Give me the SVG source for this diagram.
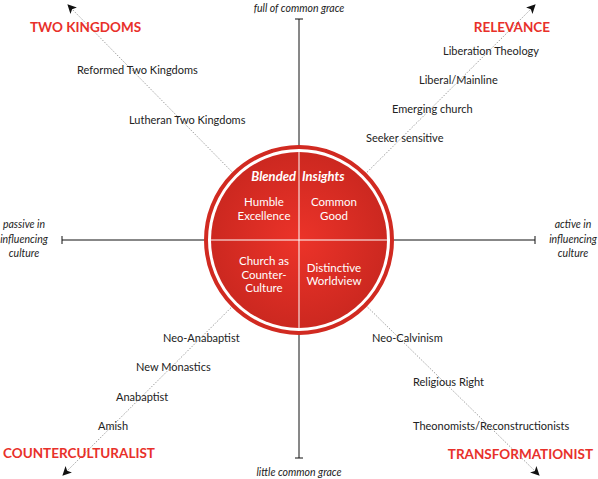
<svg xmlns="http://www.w3.org/2000/svg" width="598" height="479" viewBox="0 0 598 479">
<style>
.lbl{font-family:Lato,"Liberation Sans",sans-serif;font-size:11px;fill:#222}
.ax{font-family:Lato,"Liberation Sans",sans-serif;font-size:10.5px;font-style:italic;fill:#222;text-anchor:middle}
.hd{font-family:Lato,"Liberation Sans",sans-serif;font-size:13.5px;font-weight:bold;fill:#e8302a}
.in{font-family:Lato,"Liberation Sans",sans-serif;font-size:11.5px;fill:#fff;text-anchor:middle}
.ttl{font-family:Lato,"Liberation Sans",sans-serif;font-size:13px;font-weight:bold;font-style:italic;fill:#fff}
.axis{stroke:#111;stroke-width:1;fill:none}
.diag{stroke:#888;stroke-width:0.8;stroke-dasharray:1.5 1.5;fill:none}
</style>
<defs>
<marker id="arr" viewBox="0 0 10 10" refX="9" refY="5" markerWidth="9" markerHeight="9" markerUnits="userSpaceOnUse" orient="auto">
<path d="M0,0 L10,5 L0,10 L2.5,5 z" fill="#111"/>
</marker>
<radialGradient id="rg" cx="0.5" cy="0.5" r="0.5">
<stop offset="0" stop-color="#ec3329"/>
<stop offset="1" stop-color="#cc2820"/>
</radialGradient>
</defs>
<rect width="598" height="479" fill="#fff"/>
<g id="connectors">
<line class="axis" x1="299" y1="19" x2="299" y2="458"/>
<line class="axis" x1="295" y1="19" x2="303" y2="19"/>
<line class="axis" x1="295" y1="458" x2="303" y2="458"/>
<line class="axis" x1="62" y1="240" x2="535" y2="240"/>
<line class="axis" x1="62" y1="236" x2="62" y2="244"/>
<line class="axis" x1="535" y1="236" x2="535" y2="244"/>
<line class="diag" x1="299" y1="240" x2="68" y2="5" marker-end="url(#arr)"/>
<line class="diag" x1="299" y1="240" x2="535" y2="5" marker-end="url(#arr)"/>
<line class="diag" x1="299" y1="240" x2="63" y2="475" marker-end="url(#arr)"/>
<line class="diag" x1="299" y1="240" x2="539" y2="475" marker-end="url(#arr)"/>
</g>
<g id="axis-labels">
<text class="ax" x="299" y="12">full of common grace</text>
<text class="ax" x="299" y="476">little common grace</text>
<text class="ax" x="24" y="228">passive in</text>
<text class="ax" x="24" y="243">influencing</text>
<text class="ax" x="24" y="257">culture</text>
<text class="ax" x="573" y="228">active in</text>
<text class="ax" x="573" y="243">influencing</text>
<text class="ax" x="573" y="257">culture</text>
</g>
<g id="headers">
<text class="hd" x="30" y="32">TWO KINGDOMS</text>
<text class="hd" x="550" y="32" text-anchor="end">RELEVANCE</text>
<text class="hd" x="3" y="458">COUNTERCULTURALIST</text>
<text class="hd" x="593" y="459" text-anchor="end">TRANSFORMATIONIST</text>
</g>
<g id="labels">
<text class="lbl" x="77" y="74">Reformed Two Kingdoms</text>
<text class="lbl" x="129" y="124">Lutheran Two Kingdoms</text>
<text class="lbl" x="443" y="55">Liberation Theology</text>
<text class="lbl" x="419" y="84">Liberal/Mainline</text>
<text class="lbl" x="392" y="113">Emerging church</text>
<text class="lbl" x="366" y="142">Seeker sensitive</text>
<text class="lbl" x="163" y="342">Neo-Anabaptist</text>
<text class="lbl" x="136" y="371">New Monastics</text>
<text class="lbl" x="116" y="401">Anabaptist</text>
<text class="lbl" x="98" y="430">Amish</text>
<text class="lbl" x="372" y="342">Neo-Calvinism</text>
<text class="lbl" x="413" y="386">Religious Right</text>
<text class="lbl" x="413" y="430">Theonomists/Reconstructionists</text>
</g>
<g id="circle">
<circle cx="299" cy="240" r="95" fill="#fff"/>
<circle cx="299" cy="240" r="93" fill="none" stroke="#d12a21" stroke-width="4"/>
<circle cx="299" cy="240" r="88" fill="url(#rg)"/>
<line x1="299" y1="152" x2="299" y2="328" stroke="#fff" stroke-width="1"/>
<line x1="211" y1="240" x2="387" y2="240" stroke="#fff" stroke-width="1"/>
<text class="ttl" x="296" y="181" text-anchor="end">Blended</text>
<text class="ttl" x="302" y="181">Insights</text>
<text class="in" x="264" y="206">Humble</text>
<text class="in" x="264" y="220">Excellence</text>
<text class="in" x="334" y="206">Common</text>
<text class="in" x="334" y="220">Good</text>
<text class="in" x="264" y="265">Church as</text>
<text class="in" x="264" y="279">Counter-</text>
<text class="in" x="264" y="292">Culture</text>
<text class="in" x="334" y="272">Distinctive</text>
<text class="in" x="334" y="285">Worldview</text>
</g>
</svg>
